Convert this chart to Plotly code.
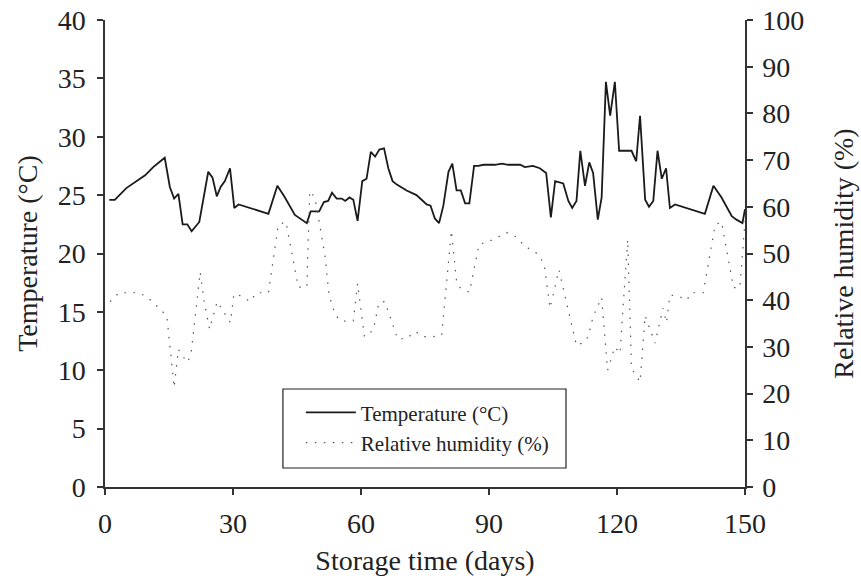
import plotly.graph_objects as go

# Temperature (°C) vs storage time (days)
temp_days = [1, 2.3, 5, 9.4, 11.3, 14, 15.2, 16.2, 17.2, 18.2, 19.3, 20.3, 22.1, 24.2, 25.2,
             26.2, 27.1, 28.1, 29.3, 30.3, 31.3, 38.3, 40.4, 42, 44.5, 47.3, 48.2, 50.2, 51.3,
             52.3, 53.2, 54.3, 55.5, 56.3, 57.3, 58.2, 59.2, 60.3, 61.3, 62.3, 63.3, 64.3, 65.4,
             66.4, 67.4, 68.4, 70.7, 73, 74.2, 75.4, 76.3, 77.3, 78.3, 79.3, 80.5, 81.4, 82.4,
             83.4, 84.4, 85.4, 86.5, 87.5, 88.7, 91.4, 93, 94.5, 97.3, 98.4, 100.3, 101.9, 103.4,
             104.5, 105.5, 107.4, 108.6, 109.5, 110.5, 111.4, 112.5, 113.5, 114.4, 115.5, 116.4,
             117.4, 118.4, 119.5, 120.5, 123.4, 124.5, 125.4, 126.6, 127.5, 128.5, 129.5, 130.5,
             131.5, 132.4, 133.6, 140.6, 142.6, 144.5, 146.9, 148, 149.4, 150]
temp_vals = [24.6, 24.6, 25.6, 26.7, 27.4, 28.2, 25.7, 24.7, 25.1, 22.5, 22.5, 21.9, 22.7, 27.0, 26.5,
             24.9, 25.7, 26.2, 27.3, 23.9, 24.2, 23.4, 25.8, 24.9, 23.3, 22.6, 23.6, 23.6, 24.4,
             24.5, 25.2, 24.7, 24.7, 24.5, 24.8, 24.6, 22.8, 26.2, 26.4, 28.7, 28.3, 28.9, 29.0,
             27.3, 26.2, 25.9, 25.4, 25.0, 24.6, 24.2, 24.1, 23.0, 22.6, 24.1, 27.0, 27.7, 25.4,
             25.4, 24.3, 24.3, 27.5, 27.5, 27.6, 27.6, 27.7, 27.6, 27.6, 27.4, 27.5, 27.3, 26.9,
             23.1, 26.2, 26.0, 24.5, 23.9, 24.5, 28.8, 25.8, 27.8, 26.9, 22.9, 24.8,
             34.7, 31.8, 34.7, 28.8, 28.8, 27.9, 31.8, 24.6, 24.0, 24.5, 28.8, 26.4,
             27.3, 23.9, 24.2, 23.4, 25.8, 24.8, 23.2, 22.9, 22.6, 23.8]

# Relative humidity (%) vs storage time (days)
rh_days = [1.2, 3.3, 5.5, 7.8, 9.5, 11.1, 13.1, 14.5, 16.2, 17.2, 18.2, 19.4, 20.2, 22.3, 23.2,
           24.5, 26.3, 29.4, 30.2, 32, 34, 35.5, 38.3, 40.6, 42.4, 45.3, 47.3, 48.0, 49.2, 50.0,
           51.6, 52.5, 53.9, 55.1, 57, 58.2, 59.2, 60.8, 62.9, 64.2, 65.6, 68.6, 70.7, 72.7, 74.6,
           77, 78.9, 81.2, 82.4, 83.2, 85.4, 87.7, 89.8, 92, 94.1, 96.5, 98.4, 100.6, 102, 103,
           104.3, 106.4, 110.5, 112.5, 113.3, 114.4, 116.4, 117.8, 119.5, 120.7, 122.5, 123.4,
           125.4, 126.6, 128.9, 130.8, 131.6, 132.4, 134.4, 136.3, 137.5, 140.2, 143, 144.5,
           147.3, 148.8, 150]
rh_vals = [39.7, 41.6, 41.6, 41.6, 40.9, 39.7, 37.9, 36.6, 21.3, 29.5, 28.0, 26.7, 28.8, 46.0, 40.0,
           33.8, 39.7, 35.2, 41.3, 40.9, 39.7, 41.6, 41.6, 56.1, 56.8, 42.8, 42.8, 63.4, 62.0, 57.7,
           49.3, 41.1, 37.0, 35.6, 35.5, 35.6, 43.6, 32.2, 33.6, 39.5, 39.7, 31.7, 31.8, 33.3, 32.2,
           32.2, 32.5, 54.9, 44.0, 42.7, 41.7, 52.0, 52.5, 53.5, 54.5, 53.5, 51.5, 50.5, 49.3, 47.2,
           38.3, 46.5, 30.3, 31.1, 32.4, 36.5, 40.6, 25.0, 30.0, 28.6, 53.0, 25.4,
           22.5, 36.7, 30.8, 38.3, 35.2, 41.1, 40.9, 40.0, 41.6, 41.6, 56.1, 56.8,
           42.7, 42.7, 57.0]

x_ticks = [0, 30, 60, 90, 120, 150]
y_ticks = [0, 5, 10, 15, 20, 25, 30, 35, 40]
y2_ticks = [0, 10, 20, 30, 40, 50, 60, 70, 80, 90, 100]

FONT = "Liberation Serif, Times New Roman, serif"
AX = "#333333"
TXT = "#222222"

fig = go.Figure()
fig.add_trace(go.Scatter(x=temp_days, y=temp_vals, mode="lines", name="Temperature (°C)",
                         line=dict(color="#1a1a1a", width=1.8)))
fig.add_trace(go.Scatter(x=rh_days, y=rh_vals, mode="lines", name="Relative humidity (%)",
                         yaxis="y2", line=dict(color="#555555", width=1.2, dash="1.5px,7.5px")))

# legend frame
fig.add_shape(type="rect", xref="paper", yref="paper", x0=0.278, x1=0.7203, y0=0.0407, y1=0.2099,
              line=dict(color="#222222", width=1.2), fillcolor="white", layer="below")

fig.update_layout(
    width=861, height=587,
    margin=dict(l=105, r=116, t=20, b=100, autoexpand=False),
    paper_bgcolor="white", plot_bgcolor="white",
    font=dict(family=FONT, size=28, color=TXT),
    showlegend=True,
    legend=dict(x=0.306, y=0.203, xanchor="left", yanchor="top",
                bgcolor="rgba(0,0,0,0)", borderwidth=0,
                font=dict(family=FONT, size=21, color=TXT),
                tracegroupgap=0, itemwidth=50),
    xaxis=dict(range=[0, 150], tickvals=x_ticks, showgrid=False, zeroline=False,
               showline=True, linecolor=AX, linewidth=1.5, ticks="outside", ticklen=6,
               tickcolor=AX, tickwidth=1.5, ticklabelstandoff=5, automargin=False,
               title=dict(text="Storage time (days)", standoff=12,
                          font=dict(family=FONT, size=28))),
    yaxis=dict(range=[0, 40], tickvals=y_ticks, showgrid=False, zeroline=False,
               showline=True, linecolor=AX, linewidth=1.5, ticks="outside", ticklen=6,
               tickcolor=AX, tickwidth=1.5, ticklabelstandoff=6, automargin=False,
               title=dict(text="Temperature (°C)", standoff=12,
                          font=dict(family=FONT, size=28))),
    yaxis2=dict(range=[0, 100], tickvals=y2_ticks, overlaying="y", side="right",
                showgrid=False, zeroline=False, showline=True, linecolor=AX, linewidth=1.5,
                ticks="outside", ticklen=6, tickcolor=AX, tickwidth=1.5, ticklabelstandoff=4,
                automargin=False,
                title=dict(text="Relative humidity (%)", standoff=30,
                           font=dict(family=FONT, size=28))),
)

fig.write_html("out.html")
